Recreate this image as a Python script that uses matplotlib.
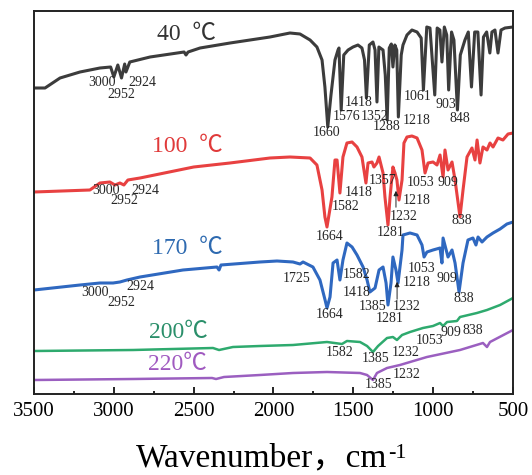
import matplotlib
matplotlib.use("Agg")
import matplotlib.pyplot as plt
from matplotlib.ticker import MultipleLocator

# spectra: wavenumber (cm-1) and offset transmittance (a.u.)
wn_40 = [3500, 3431, 3337, 3212, 3087, 3020, 3000, 2975, 2952, 2932, 2924, 2900, 2773, 2560, 2548, 2535,
         2460, 2272, 2022, 1897, 1834, 1771, 1728, 1696, 1678, 1660, 1640, 1615, 1596, 1590, 1576, 1560,
         1533, 1502, 1471, 1446, 1430, 1418, 1400, 1377, 1364, 1352, 1340, 1314, 1300, 1288, 1275, 1262,
         1252, 1240, 1228, 1218, 1200, 1189, 1164, 1133, 1101, 1075, 1061, 1040, 1020, 990, 975, 958,
         945, 930, 915, 903, 885, 870, 848, 830, 801, 780, 760, 740, 720, 700, 685, 665, 645, 632, 613,
         594, 575, 550, 500]
t_40 = [306, 306, 316, 322, 326, 327, 317, 329, 316, 330, 322, 332, 337, 342, 339, 342,
        346, 351, 357, 361, 360, 354, 347, 334, 307, 267, 299, 334, 344, 346, 284, 339,
        344, 347, 349, 346, 334, 296, 349, 352, 344, 292, 347, 344, 319, 274, 346, 350,
        327, 349, 344, 277, 339, 349, 359, 364, 362, 356, 304, 367, 366, 299, 366, 364,
        332, 367, 359, 304, 362, 354, 284, 339, 354, 362, 307, 362, 362, 299, 357, 362, 341, 362, 364,
        341, 364, 366, 367]

wn_100 = [3500, 3150, 3087, 3025, 2993, 2962, 2937, 2912, 2836, 2500, 2273, 2022, 1897, 1771, 1728, 1696,
          1678, 1665, 1634, 1615, 1602, 1584, 1565, 1540, 1508, 1477, 1446, 1421, 1408, 1383, 1371, 1352,
          1339, 1314, 1302, 1283, 1270, 1252, 1239, 1227, 1214, 1195, 1183, 1164, 1133, 1101, 1070, 1051,
          1032, 1001, 976, 957, 938, 926, 907, 882, 863, 832, 813, 788, 757, 738, 725, 707, 688, 663,
          644, 625, 594, 563, 531, 500]
t_100 = [202, 204, 211, 212, 209, 211, 209, 214, 216, 227, 231, 236, 237, 236, 229, 204,
         177, 167, 197, 234, 234, 201, 237, 251, 252, 247, 237, 211, 231, 232, 227, 231,
         237, 221, 197, 169, 197, 227, 221, 214, 194, 214, 251, 257, 258, 256, 244, 221,
         231, 232, 229, 239, 217, 244, 224, 232, 214, 177, 204, 237, 246, 234, 254, 231, 247, 244,
         251, 247, 256, 254, 260, 261]

wn_170 = [3500, 3212, 3087, 3005, 2962, 2918, 2836, 2567, 2354, 2341, 2329, 2085, 1978, 1878, 1834, 1815,
          1753, 1709, 1677, 1665, 1646, 1627, 1602, 1584, 1565, 1540, 1508, 1477, 1439, 1414, 1396, 1364,
          1339, 1314, 1295, 1283, 1264, 1252, 1233, 1220, 1195, 1189, 1145, 1101, 1070, 1057, 1039, 1001,
          957, 945, 938, 907, 882, 863, 838, 813, 782, 751, 732, 719, 694, 663, 625, 581, 538, 500]
t_170 = [104, 109, 111, 111, 112, 114, 117, 124, 127, 124, 129, 132, 133, 132, 130, 132,
         127, 114, 94, 86, 97, 131, 134, 114, 134, 151, 147, 139, 127, 114, 102, 106,
         124, 127, 111, 89, 111, 137, 124, 111, 144, 159, 161, 159, 149, 137, 142, 144,
         146, 131, 156, 137, 144, 131, 102, 131, 154, 156, 149, 157, 152, 157, 161, 165, 170, 172]

wn_200 = [3500, 2880, 2379, 2341, 2254, 2085, 1878, 1665, 1571, 1540, 1458, 1414, 1377, 1345, 1289, 1252,
          1227, 1195, 1145, 1064, 1001, 957, 938, 913, 851, 832, 726, 663, 581, 500]
t_200 = [43, 44, 46, 44, 47, 48, 49, 52, 50, 53, 52, 48, 42, 48, 56, 57,
         54, 59, 62, 66, 68, 71, 68, 72, 73, 77, 81, 84, 89, 96]

wn_220 = [3500, 2880, 2385, 2360, 2310, 2085, 1878, 1665, 1458, 1414, 1377, 1352, 1289, 1208, 1039, 832,
          688, 663, 644, 500]
t_220 = [14, 15, 16, 15, 17, 19, 21, 22, 21, 19, 14, 21, 26, 29, 37, 44,
         51, 47, 52, 64]

# peak labels: text, wavenumber, height
peaks_40 = [("3000", 3074, 311), ("2952", 2955, 300), ("2924", 2824, 311), ("1660", 1665, 262),
            ("1576", 1540, 278), ("1418", 1465, 291), ("1352", 1364, 278), ("1288", 1289, 267),
            ("1218", 1101, 274), ("1061", 1095, 297), ("903", 920, 289), ("848", 832, 276)]
peaks_100 = [("3000", 3049, 204), ("2952", 2936, 194), ("2924", 2805, 204), ("1664", 1646, 158),
             ("1582", 1546, 188), ("1418", 1465, 202), ("1357", 1314, 214), ("1281", 1264, 162),
             ("1232", 1183, 177), ("1218", 1101, 193), ("1053", 1082, 212), ("909", 907, 212),
             ("838", 819, 174)]
peaks_170 = [("3000", 3118, 102), ("2952", 2955, 91), ("2924", 2836, 107), ("1725", 1853, 116),
             ("1664", 1646, 80), ("1582", 1477, 119), ("1418", 1477, 101), ("1385", 1377, 88),
             ("1281", 1270, 75), ("1232", 1164, 88), ("1218", 1101, 111), ("1053", 1070, 126),
             ("909", 913, 116), ("838", 807, 95)]
peaks_200 = [("1582", 1584, 41), ("1385", 1364, 35), ("1232", 1170, 42), ("1053", 1020, 54),
             ("909", 888, 62), ("838", 751, 64)]
peaks_220 = [("1385", 1339, 9), ("1232", 1164, 19)]

temps = ["40  ℃", "100  ℃", "170  ℃", "200℃", "220℃"]
temp_pos = [(2730, 359), (2761, 247), (2761, 146), (2780, 61), (2786, 29)]

line_colors = ["#3c3c3c", "#e84141", "#2f68c0", "#2eaa6e", "#9b5fc0"]
text_colors = ["#333333", "#e03a3a", "#2e6ab0", "#2a8f6a", "#a05ac0"]

serif = ["Liberation Serif", "Noto Sans CJK SC", "DejaVu Sans"]

fig = plt.figure(figsize=(5.32, 4.75), dpi=100)
ax = fig.add_axes([34 / 532, 1 - 394 / 475, 479 / 532, 383 / 475])

series = [(wn_40, t_40, 2.2), (wn_100, t_100, 2.2), (wn_170, t_170, 2.2), (wn_200, t_200, 1.8), (wn_220, t_220, 1.8)]
for (wn, t, lw), c in zip(series, line_colors):
    ax.plot(wn, t, color=c, lw=lw, solid_joinstyle="round")

for peaks in [peaks_40, peaks_100, peaks_170, peaks_200, peaks_220]:
    for txt, x, y in peaks:
        ax.text(x, y, txt, ha="center", va="center", fontsize=10, color="#262626", family=serif)

# arrows pointing at the 1232 shoulder
ax.annotate("", xy=(1233, 206), xytext=(1233, 184),
            arrowprops=dict(arrowstyle="-|>", color="#222222", lw=0.7, mutation_scale=7))
ax.annotate("", xy=(1226, 115), xytext=(1226, 92),
            arrowprops=dict(arrowstyle="-|>", color="#222222", lw=0.7, mutation_scale=7))

for lab, (x, y), c in zip(temps, temp_pos, text_colors):
    ax.text(x, y, lab, ha="left", va="center", fontsize=17, color=c, family=serif)

ax.set_xlim(3500, 500)
ax.set_ylim(0, 383)
ax.set_yticks([])
ax.xaxis.set_major_locator(MultipleLocator(500))
ax.xaxis.set_minor_locator(MultipleLocator(250))
ax.tick_params(axis="x", which="major", direction="in", length=5, width=1.2, labelsize=15, pad=6)
ax.tick_params(axis="x", which="minor", direction="in", length=2.5, width=1.2)
for lbl in ax.get_xticklabels():
    lbl.set_family(serif)
for sp in ax.spines.values():
    sp.set_linewidth(1.4)
    sp.set_color("#222222")

# x label with a raised -1
xl = fig.text(136, 9, "Wavenumber，cm", transform=None, fontsize=24, family=serif,
              ha="left", va="baseline")
fig.canvas.draw()
bb = xl.get_window_extent(fig.canvas.get_renderer())
fig.text(bb.x1 + 1, bb.y1 - 2, "-1", transform=None, fontsize=16, family=serif, ha="left", va="top")

fig.savefig("out.png", dpi=100)
